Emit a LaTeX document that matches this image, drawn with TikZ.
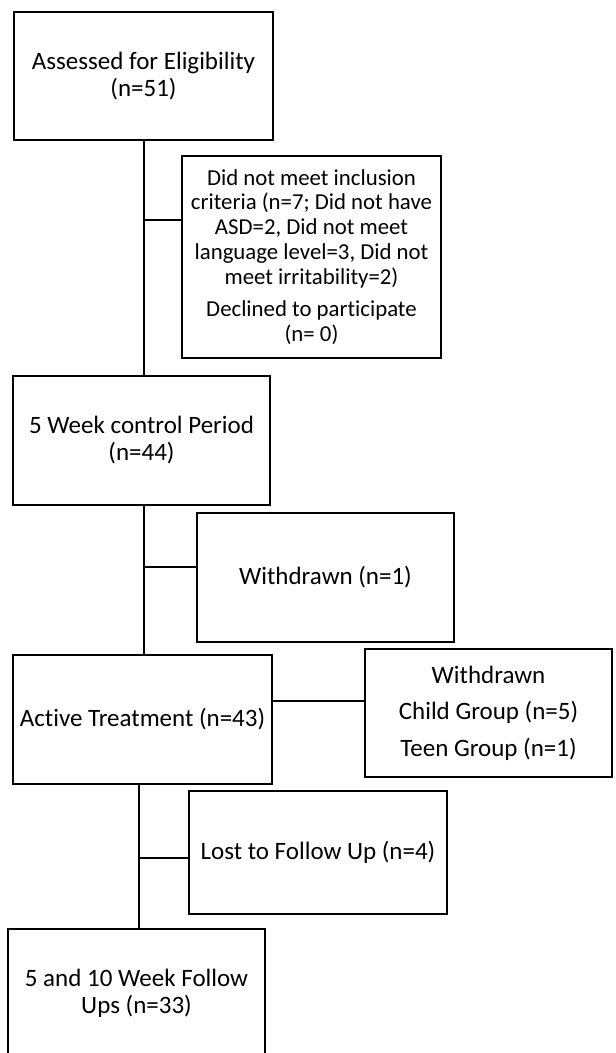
\documentclass[tikz,border=0pt]{standalone}
\usepackage{fontspec}
\setmainfont{Carlito}[Ligatures={NoCommon}]
\begin{document}
\begin{tikzpicture}[x=1pt,y=-1pt,
  box/.style={draw, line width=2pt, rectangle, align=center, inner sep=0pt,
    font=\fontsize{25}{27}\selectfont},
  smallbox/.style={box, font=\fontsize{22.8}{24.75}\selectfont},
  conn/.style={line width=2pt},
  thinconn/.style={line width=1.5pt}]
\useasboundingbox (0,0) rectangle (616,1053);
\clip (0,0) rectangle (616,1053);
\fill[white] (0,0) rectangle (616,1053);

\node[box, minimum width=259pt, minimum height=128pt] (b1) at (143.5,76)
  {Assessed for Eligibility\\(n=51)};
\node[smallbox, minimum width=259pt, minimum height=202pt] (b2) at (311.5,257)
  {Did not meet inclusion\\criteria (n=7; Did not have\\ASD=2, Did not meet\\language level=3, Did not\\meet irritability=2)\\[8pt]Declined to participate\\(n= 0)};
\node[box, minimum width=257pt, minimum height=129pt] (b3) at (141.5,440.5)
  {5 Week control Period\\(n=44)};
\node[box, minimum width=257pt, minimum height=129pt] (b4) at (325.5,577)
  {Withdrawn (n=1)};
\node[box, minimum width=259pt, minimum height=129pt] (b5) at (142.5,719)
  {Active Treatment (n=43)};
\node[box, minimum width=247pt, minimum height=128pt] (b6) at (488.5,713)
  {Withdrawn\\[9.5pt]Child Group (n=5)\\[9.5pt]Teen Group (n=1)};
\node[box, minimum width=258pt, minimum height=123pt] (b7) at (318,852)
  {Lost to Follow Up (n=4)};
\node[box, minimum width=257pt, minimum height=129pt] (b8) at (136.5,993.5)
  {5 and 10 Week Follow\\Ups (n=33)};

% connectors
\coordinate (t1) at (144,140);
\coordinate (j1) at (144,220);
\draw[conn] (t1) -- (t1 |- b3.north);
\draw[conn] (j1) -- (j1 -| b2.west);

\coordinate (t2) at (144,505);
\coordinate (j2) at (144,567);
\draw[conn] (t2) -- (t2 |- b5.north);
\draw[conn] (j2) -- (j2 -| b4.west);

\coordinate (j3) at (272,701);
\draw[thinconn] (j3) -- (j3 -| b6.west);

\coordinate (t4) at (139,784);
\coordinate (j4) at (139,858);
\draw[conn] (t4) -- (t4 |- b8.north);
\draw[thinconn] (j4) -- (j4 -| b7.west);
\end{tikzpicture}
\end{document}
